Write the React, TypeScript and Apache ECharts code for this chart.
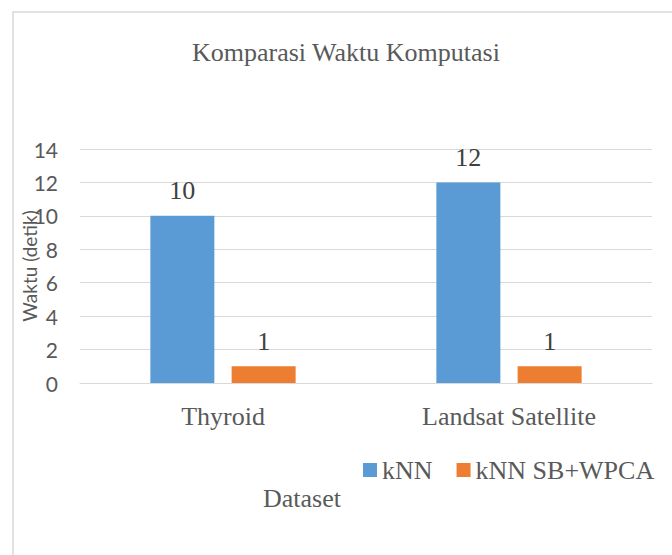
import React, { useEffect, useRef } from "react";
import * as echarts from "echarts";

const categories = ["Thyroid", "Landsat Satellite"];
const seriesNames = ["kNN", "kNN SB+WPCA"];
const knnValues = [10, 12];
const wpcaValues = [1, 1];
const yTicks = { min: 0, max: 14, interval: 2 };
const titleText = "Komparasi Waktu Komputasi";
const xAxisTitle = "Dataset";
const yAxisTitle = "Waktu (detik)";

const SERIF = "'Liberation Serif', 'Times New Roman', serif";
const SANS = "Lato, 'Open Sans', sans-serif";

export default function App() {
  const ref = useRef<HTMLDivElement>(null);
  useEffect(() => {
    if (!ref.current) return;
    const chart = echarts.init(ref.current, null, { renderer: "svg" });
    const labelStyle = {
      show: true,
      position: "top",
      distance: 12,
      fontFamily: SERIF,
      fontSize: 26,
      color: "#404040",
    };
    chart.setOption({
      animation: false,
      backgroundColor: "#ffffff",
      title: {
        text: titleText,
        left: 187,
        top: 34,
        textStyle: { fontFamily: SERIF, fontSize: 26, fontWeight: "normal", color: "#595959" },
      },
      legend: {
        left: 358,
        top: 452,
        icon: "rect",
        itemWidth: 14,
        itemHeight: 14,
        itemGap: 24,
        data: seriesNames,
        textStyle: { fontFamily: SERIF, fontSize: 26, color: "#595959" },
      },
      grid: { left: 80, right: 20, top: 149, bottom: 172 },
      xAxis: {
        type: "category",
        data: categories,
        axisLine: { lineStyle: { color: "#D9D9D9", width: 1 } },
        axisTick: { show: false },
        axisLabel: { fontFamily: SERIF, fontSize: 26, color: "#595959", margin: 20 },
      },
      yAxis: {
        type: "value",
        min: yTicks.min,
        max: yTicks.max,
        interval: yTicks.interval,
        name: yAxisTitle,
        nameLocation: "middle",
        nameRotate: 90,
        nameGap: 41,
        nameMoveOverlap: false,
        nameTextStyle: { fontFamily: SANS, fontSize: 19, color: "#595959" },
        axisLine: { show: false },
        axisTick: { show: false },
        splitLine: { lineStyle: { color: "#D9D9D9", width: 1 } },
        axisLabel: { fontFamily: SANS, fontSize: 21, color: "#595959", margin: 22 },
      },
      series: [
        {
          name: seriesNames[0],
          type: "bar",
          data: knnValues,
          barWidth: 64,
          barGap: "27%",
          itemStyle: { color: "#5B9BD5" },
          label: labelStyle,
        },
        {
          name: seriesNames[1],
          type: "bar",
          data: wpcaValues,
          barWidth: 64,
          itemStyle: { color: "#ED7D31" },
          label: labelStyle,
        },
      ],
      graphic: [
        {
          type: "rect",
          shape: { x: 13, y: 12, width: 700, height: 600 },
          style: { fill: "none", stroke: "#D9D9D9", lineWidth: 1.5 },
          silent: true,
        },
        {
          type: "text",
          x: 302,
          y: 498,
          style: {
            text: xAxisTitle,
            fontFamily: SERIF,
            fontSize: 26,
            fill: "#595959",
            textAlign: "center",
            textVerticalAlign: "middle",
          },
        },
      ],
    });
    return () => chart.dispose();
  }, []);
  return (
    <div
      ref={ref}
      style={{ position: "absolute", left: 0, top: 0, width: 672, height: 555 }}
    />
  );
}
